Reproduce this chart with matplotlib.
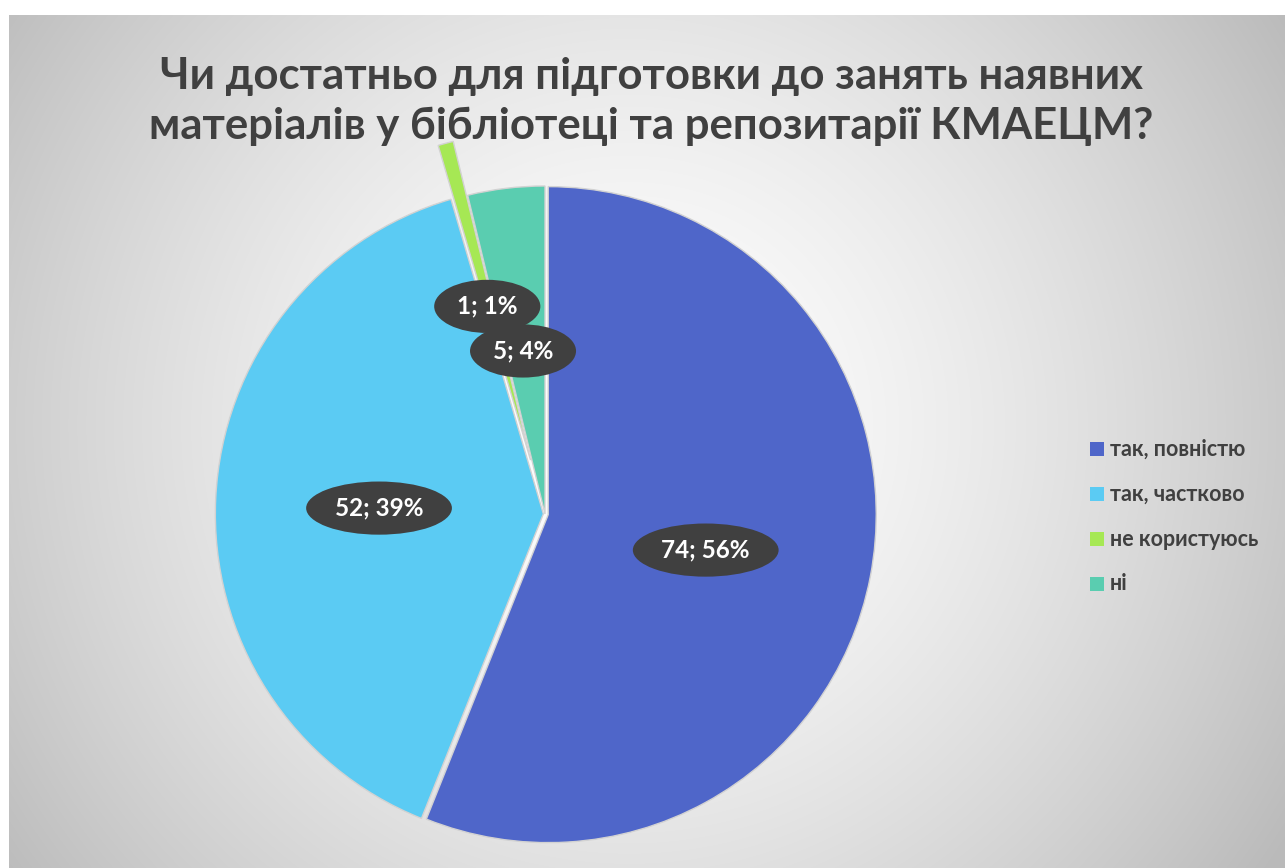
import matplotlib.pyplot as plt
import numpy as np

categories = ['так, повністю', 'так, частково', 'не користуюсь', 'ні']
counts = [74, 52, 1, 5]
percents = ['56%', '39%', '1%', '4%']
colors = ['#4F66C9', '#5BCBF3', '#A6E854', '#5ACDB0']
title = 'Чи достатньо для підготовки до занять наявних\nматеріалів у бібліотеці та репозитарії КМАЕЦМ?'

plt.rcParams['font.family'] = ['Lato', 'DejaVu Sans']

W, H = 1285, 868
fig = plt.figure(figsize=(W / 100, H / 100), dpi=100)
fig.patch.set_facecolor('white')

# фон з радіальним градієнтом
bg = fig.add_axes([9 / W, 0, 1 - 9 / W, (H - 15) / H])
bg.set_axis_off()
yy, xx = np.mgrid[0:853, 0:1276]
d = np.hypot(xx - 620, yy - 410) / 780
shade = 1 - 0.27 * np.clip(d, 0, 1) ** 1.5
bg.imshow(np.dstack([shade] * 3), aspect='auto', extent=[0, 1, 0, 1])
bg.set_xlim(0, 1)
bg.set_ylim(0, 1)

# кругова діаграма
r = 328
cx, cy = 545, H - 514
half = r * 1.3
ax = fig.add_axes([(cx - half) / W, (cy - half) / H, 2 * half / W, 2 * half / H])
wedges, _ = ax.pie(counts, colors=colors, startangle=90, counterclock=False,
                   explode=[0.01, 0.005, 0.17, 0.0],
                   wedgeprops=dict(edgecolor='#d2d2d2', linewidth=1.0))
ax.set_xlim(-1.3, 1.3)
ax.set_ylim(-1.3, 1.3)
ax.set_axis_off()

label_pos = [(0.49, -0.11), (-0.506, 0.018), (-0.176, 0.633), (-0.067, 0.497)]
for (x, y), n, p in zip(label_pos, counts, percents):
    ax.text(x, y, f'{n}; {p}', ha='center', va='center', fontsize=17.5,
            fontweight='bold', color='white', zorder=5,
            bbox=dict(boxstyle='ellipse,pad=0.3', facecolor='#404040',
                      edgecolor='none'))

fig.text(651 / W, 1 - 101 / H, title, ha='center', va='center', fontsize=31.5,
         fontweight='bold', color='#404040', linespacing=1.3)

# легенда
for i, (name, c) in enumerate(zip(categories, colors)):
    yl = 1 - (449 + 45 * i) / H
    fig.patches.append(plt.Rectangle((1090 / W, yl - 7 / H), 14 / W, 14 / H,
                                     transform=fig.transFigure, facecolor=c,
                                     edgecolor='none'))
    fig.text(1110 / W, yl, name, ha='left', va='center', fontsize=15.5,
             fontweight='bold', color='#404040')

fig.savefig('out.png', dpi=100)
